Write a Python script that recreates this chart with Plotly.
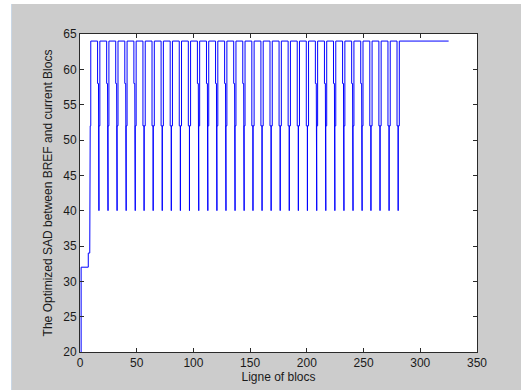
import plotly.graph_objects as go

# ---- data ----
x_ticks = [0, 50, 100, 150, 200, 250, 300, 350]
y_ticks = [20, 25, 30, 35, 40, 45, 50, 55, 60, 65]

# start-up staircase (x, SAD)
start_x = [1, 1, 7.3, 7.3, 8.6, 8.6, 9.0, 9.0, 9.5, 9.5]
start_y = [20, 32, 32, 34, 34, 38, 38, 52, 52, 64]

# centre of each dip between the plateaux at 64
gap_x = [16.5, 24.5, 32.5, 40.5, 48.5, 56.5, 64.5, 72.5, 80.5, 88.5,
         96.5, 104.5, 112.5, 120.5, 128.5, 136.5, 144.5, 152.5, 160.5, 168.5,
         176.5, 184.5, 192.5, 200.5, 208.5, 216.5, 224.5, 232.5, 240.5, 248.5,
         256.5, 264.5, 272.5, 280.5]
# dip kind: A = 64 -> 58 -> 46 -> 40 -> 52 -> 64 ; B = 64 -> 52 -> 40 -> 52 -> 64
gap_kind = list("AAAAABBBBBBAAAAAABBBBBBBAAAAAABBBB")
top_level = 64
level_a = [58, 46, 40, 52]
level_b = [52, 40, 52]
end_x = 325

# ---- build the polyline from the data ----
xs = list(start_x)
ys = list(start_y)
for c, kind in zip(gap_x, gap_kind):
    if kind == "A":
        n58, n46, n40, n52 = level_a
        xs += [c - 1, c - 1, c - 0.2, c - 0.2, c + 0.2, c + 0.2, c + 0.2, c + 1, c + 1]
        ys += [top_level, n58, n58, n46, n46, n40, n52, n52, top_level]
    else:
        b52, b40, b52b = level_b
        xs += [c - 1, c - 1, c, c, c, c + 1, c + 1]
        ys += [top_level, b52, b52, b40, b52b, b52b, top_level]
xs.append(end_x)
ys.append(top_level)

fig = go.Figure()
fig.add_trace(go.Scatter(x=xs, y=ys, mode="lines",
                         line=dict(color="#0000ff", width=1),
                         showlegend=False, hoverinfo="skip"))

FONT = "Liberation Sans, Arial, sans-serif"
axis_common = dict(showline=True, linecolor="#2a2a2a", linewidth=1, mirror="ticks",
                   ticks="inside", ticklen=4, tickcolor="#2a2a2a", tickwidth=1,
                   showgrid=False, zeroline=False, automargin=False,
                   tickfont=dict(family=FONT, size=12, color="#1a1a1a"))

fig.update_xaxes(range=[0, 350], tickvals=x_ticks,
                 title=dict(text="Ligne of blocs", standoff=3,
                            font=dict(family=FONT, size=12, color="#1a1a1a")),
                 **axis_common)
fig.update_yaxes(range=[20, 65], tickvals=y_ticks,
                 title=dict(text="The Optimized SAD between BREF and current Blocs", standoff=8,
                            font=dict(family=FONT, size=12, color="#1a1a1a")),
                 **axis_common)

fig.update_layout(
    width=521, height=390,
    margin=dict(l=80, r=44, t=34, b=38, pad=0),
    paper_bgcolor="#cccccc", plot_bgcolor="#ffffff",
    shapes=[
        dict(type="rect", xref="paper", yref="paper",
             x0=-80/397, x1=-69/397, y0=-38/318, y1=356/318,
             fillcolor="#ffffff", line=dict(width=0), layer="below"),
        dict(type="rect", xref="paper", yref="paper",
             x0=-80/397, x1=441/397, y0=(352-4)/318, y1=356/318,
             fillcolor="#ffffff", line=dict(width=0), layer="below"),
        dict(type="line", xref="paper", yref="paper",
             x0=-68.5/397, x1=-68.5/397, y0=-38/318, y1=(352-4)/318,
             line=dict(color="#c9d7e6", width=1), layer="below"),
    ],
)

fig.write_html("out.html")
